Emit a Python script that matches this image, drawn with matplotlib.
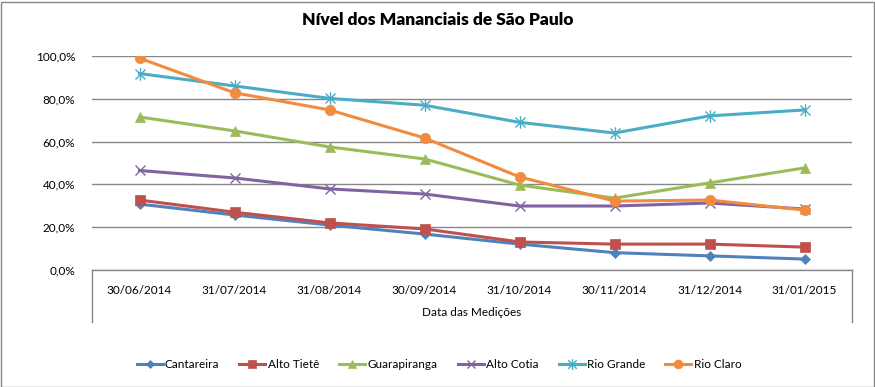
import matplotlib
matplotlib.use("Agg")
import matplotlib.pyplot as plt
from matplotlib.path import Path
from matplotlib.lines import Line2D
from matplotlib.patches import Rectangle
from matplotlib.ticker import FuncFormatter

plt.rcParams['font.family'] = ['Lato', 'DejaVu Sans']

datas = ["30/06/2014", "31/07/2014", "31/08/2014", "30/09/2014",
         "31/10/2014", "30/11/2014", "31/12/2014", "31/01/2015"]

cantareira = [30.8, 25.7, 21.0, 16.8, 12.1, 8.1, 6.6, 5.1]
alto_tiete = [32.7, 27.0, 22.0, 19.2, 13.1, 12.1, 12.1, 10.7]
guarapiranga = [71.5, 65.0, 57.5, 51.9, 39.7, 33.6, 40.7, 47.7]
alto_cotia = [46.5, 43.0, 37.9, 35.5, 29.9, 29.9, 31.3, 28.5]
rio_grande = [91.8, 86.0, 80.2, 77.0, 69.0, 64.0, 72.0, 74.8]
rio_claro = [99.0, 82.8, 74.8, 61.7, 43.5, 32.2, 32.7, 28.0]

# asterisco: vertical + duas diagonais (marcador "estrela" do Excel)
star = Path([(0, -1), (0, 1), (-0.8, -0.8), (0.8, 0.8), (-0.8, 0.8), (0.8, -0.8)],
            [Path.MOVETO, Path.LINETO, Path.MOVETO, Path.LINETO, Path.MOVETO, Path.LINETO])

series = [
    ("Cantareira", cantareira, "#4F81BD", "D", 5),
    ("Alto Tietê", alto_tiete, "#C0504D", "s", 7),
    ("Guarapiranga", guarapiranga, "#9BBB59", "^", 7.5),
    ("Alto Cotia", alto_cotia, "#8064A2", "x", 7),
    ("Rio Grande", rio_grande, "#4BACC6", star, 9),
    ("Rio Claro", rio_claro, "#F38B3E", "o", 7.5),
]

fig = plt.figure(figsize=(8.75, 3.87), dpi=100)
ax = fig.add_axes([92/875, 1-270/387, 760/875, 214/387])

x = list(range(len(datas)))
for nome, vals, cor, mk, ms in series:
    ax.plot(x, vals, color=cor, lw=2.2, marker=mk, markersize=ms,
            markeredgewidth=1.0 if mk in ("x",) or mk is star else 0.5,
            markeredgecolor=cor, markerfacecolor=cor, label=nome, zorder=3)

ax.set_xlim(-0.5, 7.5)
ax.set_ylim(0, 100)
ax.set_yticks([0, 20, 40, 60, 80, 100])
ax.yaxis.set_major_formatter(FuncFormatter(lambda v, p: f"{v:.1f}%".replace(".", ",")))
ax.set_xticks(x)
ax.set_xticklabels(datas)
ax.tick_params(axis='both', length=0, labelsize=8.5, colors='black')
ax.tick_params(axis='x', pad=11)
ax.tick_params(axis='y', pad=12)
ax.grid(axis='y', color='#878787', lw=1)
ax.set_axisbelow(True)
for s in ['left', 'right', 'top']:
    ax.spines[s].set_visible(False)
ax.spines['bottom'].set_color('#878787')
ax.spines['bottom'].set_linewidth(1)

# linhas laterais da caixa de rótulos das categorias
for xa in (0, 1):
    ax.add_line(Line2D([xa, xa], [0, -52/214], transform=ax.transAxes,
                       color='#878787', lw=1, clip_on=False))

ax.set_xlabel("Data das Medições", fontsize=8.5, labelpad=8)

fig.text(0.5, 1-20/387, "Nível dos Mananciais de São Paulo", ha='center', va='center',
         fontsize=12.5, fontweight='heavy')

fig.legend(loc='center', bbox_to_anchor=(439/875, 1-365/387), ncol=6, frameon=False,
           fontsize=8.5, handlelength=2.2, columnspacing=1.7, handletextpad=0.2,
           markerscale=0.85)

fig.patches.append(Rectangle((0.5/875, 0.5/387), 873/875, 385/387, transform=fig.transFigure,
                             fill=False, edgecolor='#878787', lw=1))

fig.savefig("out.png", dpi=100)
